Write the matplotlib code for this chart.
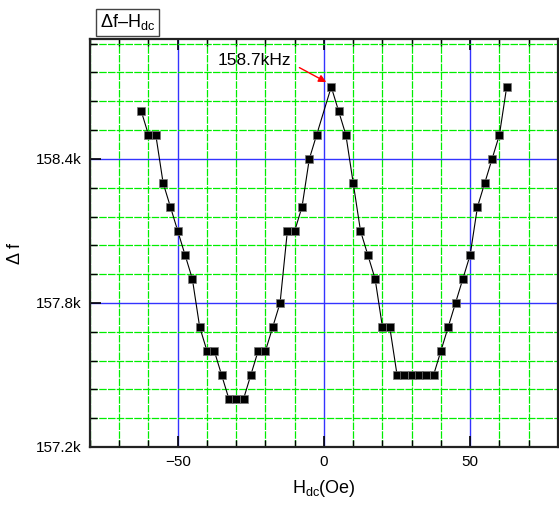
import matplotlib
matplotlib.use('Agg')
import matplotlib.pyplot as plt
from matplotlib.ticker import MultipleLocator, AutoMinorLocator, FuncFormatter

# Field sweep (Oe) and resonance frequency (kHz)
H_dc = [-62.5, -60, -57.5, -55, -52.5, -50, -47.5, -45, -42.5, -40,
        -37.5, -35, -32.5, -30, -27.5, -25, -22.5, -20, -17.5, -15,
        -12.5, -10, -7.5, -5, -2.5,
        2.5, 5, 7.5, 10, 12.5, 15, 17.5, 20, 22.5, 25,
        27.5, 30, 32.5, 35, 37.5, 40, 42.5, 45, 47.5, 50,
        52.5, 55, 57.5, 60, 62.5]
delta_f = [158.6, 158.5, 158.5, 158.3, 158.2, 158.1, 158.0, 157.9, 157.7, 157.6,
           157.6, 157.5, 157.4, 157.4, 157.4, 157.5, 157.6, 157.6, 157.7, 157.8,
           158.1, 158.1, 158.2, 158.4, 158.5,
           158.7, 158.6, 158.5, 158.3, 158.1, 158.0, 157.9, 157.7, 157.7, 157.5,
           157.5, 157.5, 157.5, 157.5, 157.5, 157.6, 157.7, 157.8, 157.9, 158.0,
           158.2, 158.3, 158.4, 158.5, 158.7]

peak_label = '158.7kHz'

plt.rcParams['font.family'] = ['Liberation Sans', 'DejaVu Sans']
plt.rcParams['mathtext.fontset'] = 'custom'
plt.rcParams['mathtext.rm'] = 'Liberation Sans'
plt.rcParams['mathtext.it'] = 'Liberation Sans'

fig = plt.figure(figsize=(5.59, 5.05), dpi=100)
ax = fig.add_axes([0.161, 0.115, 0.837, 0.808])

ax.set_xlim(-80, 80)
ax.set_ylim(157.2, 158.9)

ax.xaxis.set_major_locator(MultipleLocator(50))
ax.xaxis.set_minor_locator(MultipleLocator(10))
ax.yaxis.set_major_locator(MultipleLocator(0.6))
ax.yaxis.set_minor_locator(AutoMinorLocator(5))
ax.yaxis.set_major_formatter(FuncFormatter(lambda v, p: f'{v:.1f}k'))

# grid: green minor, blue major
ax.grid(which='minor', color='#00ee00', linestyle=(0, (6, 1)), linewidth=0.9)
ax.grid(which='major', color='#3333ff', linestyle='-', linewidth=1.0)
ax.set_axisbelow(True)

ax.plot(H_dc, delta_f, '-', color='black', linewidth=0.8,
        marker='s', markersize=5.2, markerfacecolor='black',
        markeredgecolor='#777777', markeredgewidth=0.5, zorder=3)

ax.tick_params(which='both', direction='in', top=True, right=False,
               labelsize=11, colors='black')
ax.tick_params(which='major', length=8, width=1.2, pad=6)
ax.tick_params(which='minor', length=5, width=1.0)
for s in ax.spines.values():
    s.set_linewidth(1.6)
    s.set_color('#222222')

ax.set_xlabel(r'$\mathregular{H_{dc}}$(Oe)', fontsize=13, labelpad=6)
ax.set_ylabel('Δ f', fontsize=13)
ax.yaxis.set_label_coords(-0.141, 0.473)

ax.annotate(peak_label, xy=(0.8, 158.72), xytext=(-23.6, 158.81),
            fontsize=12.5, ha='center', va='center',
            arrowprops=dict(arrowstyle='-|>', color='red', lw=1.0,
                            mutation_scale=11, relpos=(1.0, 0.3),
                            shrinkA=4, shrinkB=0))

fig.text(0.228, 0.956, r'Δf–$\mathregular{H_{dc}}$', fontsize=13,
         ha='center', va='center',
         bbox=dict(boxstyle='square,pad=0.2', facecolor='white',
                   edgecolor='#444444', linewidth=1.0))

fig.savefig('out.png', dpi=100)
